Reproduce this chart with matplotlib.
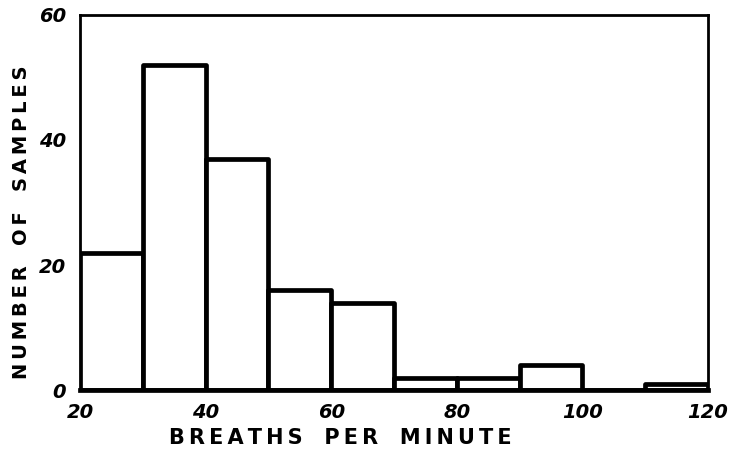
import numpy as np
import matplotlib.pyplot as plt

# Histogramm: Atemfrequenz
bin_edges = [20, 30, 40, 50, 60, 70, 80, 90, 100, 110, 120]
counts = [22, 52, 37, 16, 14, 2, 2, 4, 0, 1]
x_ticks = [20, 40, 60, 80, 100, 120]
y_ticks = [0, 20, 40, 60]
x_title = 'BREATHS PER MINUTE'
y_title = 'NUMBER OF SAMPLES'


def spaced(s):
    # etwas Sperrung zwischen den Buchstaben
    return '   '.join('\u2009'.join(w) for w in s.split(' '))


fig = plt.figure(figsize=(7.29, 4.51), dpi=100)
ax = fig.add_axes([0.110, 0.135, 0.861, 0.832])

lefts = bin_edges[:-1]
widths = np.diff(bin_edges)
ax.bar(lefts, counts, width=widths, align='edge', color='white',
       edgecolor='black', linewidth=3.4, joinstyle='round')

ax.set_xlim(20, 120)
ax.set_ylim(0, 60)
ax.set_xticks(x_ticks)
ax.set_yticks(y_ticks)
ax.tick_params(length=0, labelsize=14)
ax.tick_params(axis='y', pad=10)
ax.tick_params(axis='x', pad=9)
for lab in ax.get_xticklabels() + ax.get_yticklabels():
    lab.set_fontweight('heavy')
    lab.set_fontstyle('italic')

for s in ax.spines.values():
    s.set_linewidth(2)
ax.spines['bottom'].set_linewidth(3.4)

ax.set_xlabel(spaced(x_title), fontsize=15, fontweight='bold')
ax.set_ylabel(spaced(y_title), fontsize=14, fontweight='bold')
ax.xaxis.set_label_coords(0.414, -0.100)
ax.yaxis.set_label_coords(-0.078, 0.448)

plt.savefig('out.png', dpi=100)
